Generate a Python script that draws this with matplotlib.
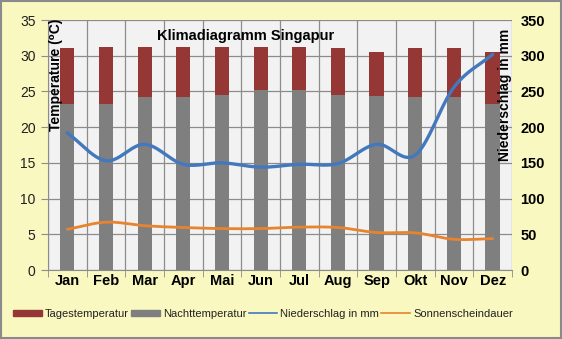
import numpy as np
import matplotlib.pyplot as plt
from matplotlib.patches import Rectangle

months = ["Jan", "Feb", "Mar", "Apr", "Mai", "Jun", "Jul", "Aug", "Sep", "Okt", "Nov", "Dez"]
tages_temp = [31.1, 31.2, 31.2, 31.2, 31.2, 31.2, 31.2, 31.1, 30.5, 31.1, 31.1, 30.5]
nacht_temp = [23.2, 23.2, 24.2, 24.2, 24.5, 25.2, 25.2, 24.5, 24.3, 24.2, 24.2, 23.2]
niederschlag = [192, 153, 176, 148, 150, 144, 148, 149, 176, 161, 256, 302]
sonnenschein = [5.7, 6.7, 6.2, 5.95, 5.8, 5.8, 6.0, 5.95, 5.25, 5.2, 4.3, 4.4]

plt.rcParams['font.family'] = ['Liberation Sans', 'DejaVu Sans']


def smooth(x, y, n=24):
    # Catmull-Rom curve through the points, like Excel's smoothed lines
    x = np.asarray(x, float)
    y = np.asarray(y, float)
    px = np.concatenate([[2 * x[0] - x[1]], x, [2 * x[-1] - x[-2]]])
    py = np.concatenate([[2 * y[0] - y[1]], y, [2 * y[-1] - y[-2]]])
    xs, ys = [], []
    t = np.linspace(0, 1, n, endpoint=False)
    for i in range(1, len(px) - 2):
        for p, out in ((px, xs), (py, ys)):
            p0, p1, p2, p3 = p[i - 1], p[i], p[i + 1], p[i + 2]
            out.extend(0.5 * (2 * p1 + (-p0 + p2) * t
                              + (2 * p0 - 5 * p1 + 4 * p2 - p3) * t ** 2
                              + (-p0 + 3 * p1 - 3 * p2 + p3) * t ** 3))
    xs.append(x[-1])
    ys.append(y[-1])
    return np.array(xs), np.array(ys)


red = '#953735'
grey = '#7f7f7f'
blue = '#4278be'
orange = '#e8832f'
gridc = '#8c8c8c'

fig = plt.figure(figsize=(5.62, 3.39), dpi=100, facecolor='#f9f8c0')
fig.patches.append(Rectangle((0.001, 0.002), 0.997, 0.995, transform=fig.transFigure,
                             fill=False, edgecolor='#8a8a8a', linewidth=1.5))

ax = fig.add_axes([0.0854, 0.2035, 0.8256, 0.7375])
ax.set_facecolor('#f2f2f2')
x = np.arange(len(months))
w = 0.37
ax.bar(x, tages_temp, width=w, color=red, zorder=2, label='Tagestemperatur')
ax.bar(x, nacht_temp, width=w, color=grey, zorder=3, label='Nachttemperatur')

sx, sy = smooth(x, sonnenschein)
ax.plot(sx, sy, color=orange, lw=2.0, zorder=4, solid_capstyle='round')

ax.set_xlim(-0.5, 11.5)
ax.set_ylim(0, 35)
ax.set_yticks(range(0, 36, 5))
ax.set_xticks(x)
ax.set_xticklabels(months, fontweight='bold', fontsize=10.5)
ax.set_xticks(np.arange(-0.5, 12, 1), minor=True)
ax.tick_params(axis='x', which='major', length=0, pad=3)
ax.tick_params(axis='x', which='minor', length=5, color=gridc)
ax.tick_params(axis='y', length=5, color=gridc, labelsize=10, labelcolor='#202020', pad=4)
ax.grid(axis='y', color=gridc, lw=0.9, zorder=0)
ax.grid(axis='x', which='minor', color=gridc, lw=0.9, zorder=0)
ax.set_axisbelow(True)
for s in ('top', 'right'):
    ax.spines[s].set_visible(False)
for s in ('left', 'bottom'):
    ax.spines[s].set_color(gridc)

ax2 = ax.twinx()
nx, ny = smooth(x, niederschlag)
ax2.plot(nx, ny, color=blue, lw=2.4, zorder=5, solid_capstyle='round')
ax2.set_ylim(0, 350)
ax2.set_yticks(range(0, 351, 50))
ax2.tick_params(axis='y', length=0, pad=6, labelsize=10.5)
for lab in ax2.get_yticklabels():
    lab.set_fontweight('bold')
for s in ax2.spines.values():
    s.set_visible(False)

ax.text(0.425, 0.965, 'Klimadiagramm Singapur', transform=ax.transAxes, ha='center', va='top',
        fontsize=10.5, fontweight='bold', zorder=6)
ax.text(0.018, 0.78, 'Temperature (\u2070C)', transform=ax.transAxes, rotation=90,
        ha='center', va='center', fontsize=10, fontweight='bold', zorder=6)
ax.text(0.984, 0.70, 'Niederschlag in mm', transform=ax.transAxes, rotation=90,
        ha='center', va='center', fontsize=10, fontweight='bold', zorder=6)

handles = [Rectangle((0, 0), 1, 1, color=red), Rectangle((0, 0), 1, 1, color=grey),
           plt.Line2D([], [], color=blue, lw=1.2), plt.Line2D([], [], color=orange, lw=1.2)]
labels = ['Tagestemperatur', 'Nachttemperatur', 'Niederschlag in mm', 'Sonnenscheindauer']
fig.legend(handles, labels, loc='center', bbox_to_anchor=(0.468, 0.074), ncol=4, frameon=False,
           fontsize=8, handlelength=2.6, handleheight=0.55, handletextpad=0.25,
           columnspacing=0.2, labelcolor='#222222')

fig.savefig('out.png', dpi=100, facecolor=fig.get_facecolor())
